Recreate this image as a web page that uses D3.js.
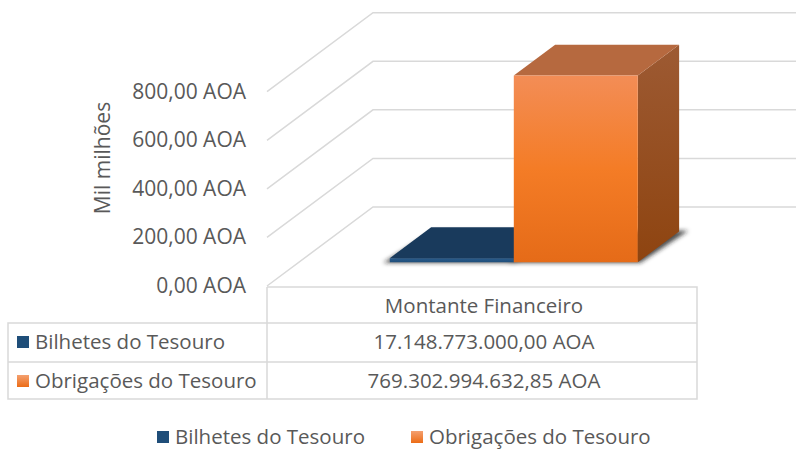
<!DOCTYPE html>
<html>
<head>
<meta charset="utf-8">
<script src="https://cdn.jsdelivr.net/npm/d3@7/dist/d3.min.js"></script>
<style>
  html, body { margin: 0; padding: 0; background: #fff; }
  svg { display: block; }
  text { font-family: "Open Sans", "Noto Sans", sans-serif; fill: #595959; }
</style>
</head>
<body>
<svg id="chart" width="796" height="450"></svg>
<script>
// ---- data ----
const categories = ["Montante Financeiro"];
const seriesNames = ["Bilhetes do Tesouro", "Obrigações do Tesouro"];
const seriesValuesAOA = [17148773000.00, 769302994632.85];
const yTicks = [0, 200, 400, 600, 800];
const yTitle = "Mil milhões";
const seriesColors = [
  { front: ["#2a5b8c", "#1f4e79"], top: "#193a5c", side: ["#183552", "#132c45"], key: ["#1f4e79", "#1f4e79"] },
  { front: ["#f38d56", "#f47c26", "#e56b18"], top: "#b6693f", side: ["#9d5a33", "#8e4410"], key: ["#f4a070", "#ec6c16"] }
];

const pt = d3.formatLocale({ decimal: ",", thousands: ".", grouping: [3], currency: ["", " AOA"] });
const fmtVal = v => pt.format(",.2f")(v) + " AOA";
const FS = 20.5;

const svg = d3.select("#chart");
const defs = svg.append("defs");

// ---- 3D geometry ----
const floorX0 = 267, floorX1 = 697;
const DX = 106, DY = -79;          // depth vector (front -> back wall)
const barD0 = 0.30, barD1 = 0.69;  // bar depth span

const y = d3.scaleLinear().domain([0, 800]).range([286, 91.7]);
const xCat = d3.scaleBand().domain(categories).range([floorX0, floorX1]);
const xSer = d3.scaleBand().domain(seriesNames).range([0, xCat.bandwidth()]).paddingInner(0).paddingOuter(0.734);

const P = (x, v, d) => [x + d * DX, y(v) + d * DY];
const poly = pts => "M" + pts.map(p => p[0].toFixed(2) + "," + p[1].toFixed(2)).join("L") + "Z";

// ---- walls / gridlines ----
const grid = svg.append("g").attr("fill", "none").attr("stroke", "#d9d9d9").attr("stroke-width", 1.5);
yTicks.forEach(t => {
  const a = P(floorX0, t, 0), b = P(floorX0, t, 1);
  grid.append("path").attr("d", `M${a[0]},${a[1]}L${b[0]},${b[1]}L796,${b[1]}`);
});

// tick labels
svg.append("g").selectAll("text").data(yTicks).join("text")
  .attr("x", 246).attr("y", d => y(d) + 7)
  .attr("text-anchor", "end").attr("font-size", FS + 0.5)
  .text(d => pt.format(",.2f")(d) + " AOA");

// y title
svg.append("text")
  .attr("transform", "translate(110,158) rotate(-90)")
  .attr("text-anchor", "middle").attr("font-size", FS + 0.5)
  .text(yTitle);

// ---- gradients ----
seriesColors.forEach((c, i) => {
  const gf = defs.append("linearGradient").attr("id", "front" + i).attr("x1", 0).attr("y1", 0).attr("x2", 0).attr("y2", 1);
  c.front.forEach((col, k) => gf.append("stop").attr("offset", k / (c.front.length - 1)).attr("stop-color", col));
  const gs = defs.append("linearGradient").attr("id", "side" + i).attr("x1", 0).attr("y1", 0).attr("x2", 0).attr("y2", 1);
  c.side.forEach((col, k) => gs.append("stop").attr("offset", k / (c.side.length - 1)).attr("stop-color", col));
  const gk = defs.append("linearGradient").attr("id", "key" + i).attr("x1", 0).attr("y1", 0).attr("x2", 0).attr("y2", 1);
  c.key.forEach((col, k) => gk.append("stop").attr("offset", k / (c.key.length - 1)).attr("stop-color", col));
});
defs.append("filter").attr("id", "blur").attr("x", "-20%").attr("y", "-50%").attr("width", "140%").attr("height", "200%")
  .append("feGaussianBlur").attr("stdDeviation", 2.2);

// ---- bars ----
const bars = seriesNames.map((s, i) => {
  const a = xCat(categories[0]) + xSer(s);
  const b = a + xSer.bandwidth();
  return { s, i, a, b, v: seriesValuesAOA[i] / 1e9 };
});

// shadows
const sh = svg.append("g").attr("filter", "url(#blur)");
bars.forEach(d => {
  sh.append("path").attr("fill", "#222").attr("opacity", 0.8)
    .attr("d", poly([P(d.a - 6, 0, barD0 - 0.005), P(d.b + 3, 0, barD0 - 0.005), P(d.b + 8, 0, barD1 + 0.01), P(d.a + 2, 0, barD1 + 0.01)]));
});

const gb = svg.append("g");
bars.forEach(d => {
  const g = gb.append("g");
  g.append("path").attr("fill", `url(#side${d.i})`)
    .attr("d", poly([P(d.b, d.v, barD0), P(d.b, d.v, barD1), P(d.b, 0, barD1), P(d.b, 0, barD0)]));
  g.append("path").attr("fill", seriesColors[d.i].top)
    .attr("d", poly([P(d.a, d.v, barD0), P(d.a, d.v, barD1), P(d.b, d.v, barD1), P(d.b, d.v, barD0)]));
  g.append("path").attr("fill", `url(#front${d.i})`)
    .attr("d", poly([P(d.a, d.v, barD0), P(d.b, d.v, barD0), P(d.b, 0, barD0), P(d.a, 0, barD0)]));
});

// ---- data table ----
const tblLeft = 8, colX = floorX0, tblRight = floorX1;
const rowY = [287, 323, 362, 399];
const tb = svg.append("g").attr("fill", "none").attr("stroke", "#d9d9d9").attr("stroke-width", 1.5);
tb.append("path").attr("d",
  `M${colX},${rowY[0]}H${tblRight}V${rowY[3]}H${tblLeft}V${rowY[1]}H${tblRight}` +
  `M${tblLeft},${rowY[2]}H${tblRight}M${colX},${rowY[0]}V${rowY[3]}`);

const cx = (colX + tblRight) / 2 + 2;
svg.append("text").attr("x", cx).attr("y", 313).attr("text-anchor", "middle").attr("font-size", FS).text(categories[0]);

seriesNames.forEach((s, i) => {
  const base = [349, 388][i];
  svg.append("rect").attr("x", 17).attr("y", base - 13).attr("width", 12).attr("height", 12).attr("fill", `url(#key${i})`);
  svg.append("text").attr("x", 35).attr("y", base).attr("font-size", FS).text(s);
  svg.append("text").attr("x", cx).attr("y", base).attr("text-anchor", "middle").attr("font-size", FS).text(fmtVal(seriesValuesAOA[i]));
});

// ---- legend ----
const legX = [157, 411];
seriesNames.forEach((s, i) => {
  svg.append("rect").attr("x", legX[i]).attr("y", 431).attr("width", 12).attr("height", 12).attr("fill", `url(#key${i})`);
  svg.append("text").attr("x", legX[i] + 18).attr("y", 444).attr("font-size", FS).text(s);
});
</script>
</body>
</html>
